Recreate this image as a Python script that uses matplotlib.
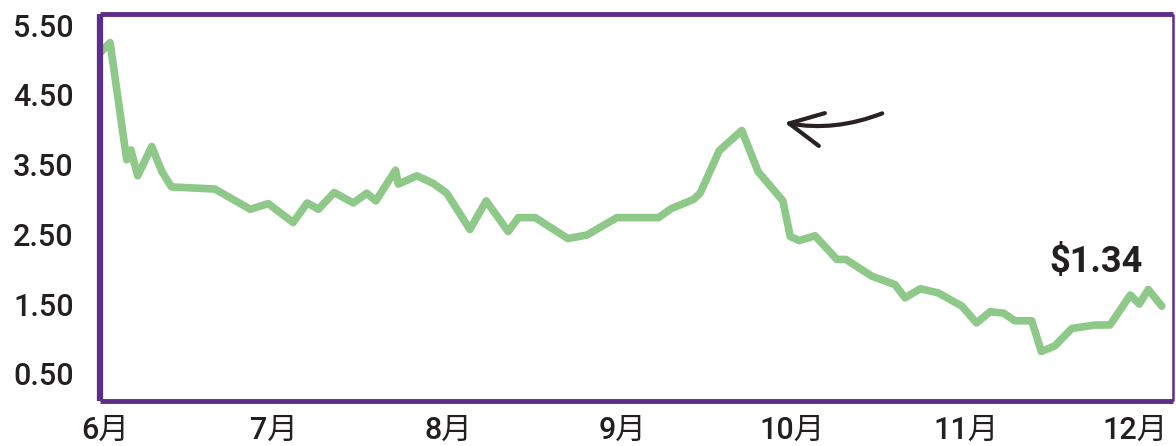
import matplotlib.pyplot as plt

# price series, x = days since 1 June
days = [-0.9, 0.9, 3.85, 4.6, 5.8, 8.3, 10.1, 11.8, 19.5, 25.8, 29, 33.4, 35.9, 37.9,
        40.7, 44.1, 46.5, 48.1, 51.6, 52.1, 55.4, 58.3, 60.7, 64.8, 67.7, 71.6, 73.4,
        76.4, 82.2, 85.6, 90.9, 98.3, 100.6, 104.5, 105.7, 109.1, 113.1, 116.0, 120.4,
        121.7, 123.3, 126.1, 130, 131.6, 136.2, 140.3, 142.1, 144.8, 148, 152.2, 154.8,
        157.2, 159.6, 161.6, 164.6, 166.3, 168.7, 171.7, 175.8, 178.5, 182.1, 183.7,
        185.3, 187.7]
price = [5.10, 5.25, 3.57, 3.71, 3.34, 3.76, 3.40, 3.18, 3.15, 2.86, 2.94, 2.67, 2.95, 2.86,
         3.10, 2.95, 3.09, 2.98, 3.42, 3.22, 3.34, 3.23, 3.09, 2.57, 2.98, 2.54, 2.74,
         2.74, 2.44, 2.49, 2.74, 2.74, 2.87, 3.00, 3.09, 3.70, 3.99, 3.40, 2.98,
         2.47, 2.41, 2.48, 2.14, 2.14, 1.90, 1.78, 1.59, 1.72, 1.66, 1.47, 1.23,
         1.39, 1.37, 1.26, 1.26, 0.82, 0.90, 1.15, 1.20, 1.20, 1.63, 1.50,
         1.71, 1.47]

month_pos = [0, 30, 61, 92, 122, 153, 183]
month_labels = ['6月', '7月', '8月', '9月', '10月', '11月', '12月']
y_ticks = [0.5, 1.5, 2.5, 3.5, 4.5, 5.5]
y_labels = ['0.50', '1.50', '2.50', '3.50', '4.50', '5.50']
last_label = '$1.34'

plt.rcParams['font.family'] = ['Roboto', 'Noto Sans CJK SC', 'DejaVu Sans']

fig = plt.figure(figsize=(11.76, 4.46), dpi=100)
ax = fig.add_axes([0.085, 0.1009, 0.9125, 0.8677])

ax.plot(days, price, color='#8fc98a', lw=5.5, solid_joinstyle='round', solid_capstyle='round')

ax.set_xlim(-0.9, 189.7)
ax.set_ylim(0.11, 5.66)
ax.set_xticks(month_pos)
ax.set_xticklabels(month_labels, fontsize=22, fontweight='medium')
ax.set_yticks(y_ticks)
ax.set_yticklabels(y_labels, fontsize=22, fontweight='medium')
ax.tick_params(axis='both', length=0, colors='#231f20')
ax.tick_params(axis='y', pad=19)
ax.tick_params(axis='x', pad=11)

purple = '#5c2e88'
ax.spines['left'].set_linewidth(4.5)
ax.spines['top'].set_linewidth(3.5)
ax.spines['bottom'].set_linewidth(3.5)
ax.spines['right'].set_linewidth(1.8)
for s in ax.spines.values():
    s.set_color(purple)
    s.set_capstyle('butt')

ax.text(167.7, 2.10, last_label, fontsize=26, fontweight='bold', color='#231f20',
        ha='left', va='center')

# hand-drawn style arrow pointing at the spike
ax.annotate('', xy=(120.2, 4.11), xytext=(138.5, 4.25),
            arrowprops=dict(arrowstyle='->,head_length=1.2,head_width=0.6',
                            mutation_scale=20, color='#2a2222', lw=3,
                            connectionstyle='arc3,rad=-0.15'))

fig.savefig('out.png', dpi=100)
